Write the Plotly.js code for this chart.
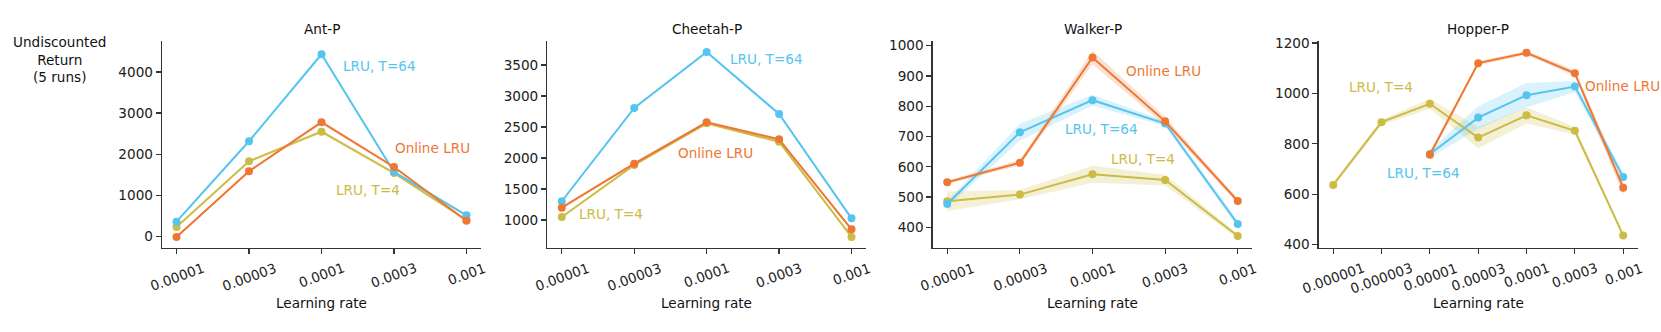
<!DOCTYPE html>
<html>
<head>
<meta charset="utf-8">
<script src="https://cdn.plot.ly/plotly-3.0.1.min.js"></script>
<style>
  html, body { margin: 0; padding: 0; background: #fff; }
  #plot { width: 1661px; height: 332px; }
</style>
</head>
<body>
<div id="plot"></div>
<script>
// learning rate tick labels
var lrFive = ['0.00001', '0.00003', '0.0001', '0.0003', '0.001'];
var lrSeven = ['0.000001', '0.000003', '0.00001', '0.00003', '0.0001', '0.0003', '0.001'];

// Ant-P
var antOnline = [-17, 1583, 2776, 1687, 380];
var antOnlineErr = [25, 30, 45, 30, 20];
var antT64 = [356, 2313, 4432, 1566, 511];
var antT64Err = [20, 25, 40, 30, 25];
var antT4 = [226, 1826, 2547, 1541, 395];
var antT4Err = [20, 30, 45, 40, 20];

// Cheetah-P
var cheOnline = [1198, 1908, 2576, 2302, 850];
var cheOnlineErr = [15, 20, 25, 20, 15];
var cheT64 = [1302, 2807, 3710, 2710, 1027];
var cheT64Err = [15, 20, 20, 20, 15];
var cheT4 = [1048, 1887, 2560, 2263, 726];
var cheT4Err = [15, 20, 25, 20, 15];

// Walker-P
var walOnline = [549, 613, 961, 750, 487];
var walOnlineErr = [6, 9, 22, 14, 8];
var walT64 = [477, 714, 820, 743, 411];
var walT64Err = [10, 28, 18, 8, 12];
var walT4 = [486, 508, 575, 556, 371];
var walT4Err = [32, 15, 28, 18, 8];

// Hopper-P
var hopOnline = [null, null, 757, 1120, 1161, 1080, 626];
var hopOnlineErr = [0, 0, 12, 8, 8, 12, 30];
var hopT64 = [null, null, 760, 904, 993, 1027, 669];
var hopT64Err = [0, 0, 15, 45, 48, 22, 15];
var hopT4 = [637, 886, 959, 825, 913, 852, 437];
var hopT4Err = [10, 10, 20, 42, 32, 15, 8];

var BLUE = '#55c5ef', ORANGE = '#ee7733', OLIVE = '#ccbb44';
var BLUE_F = 'rgba(85,197,239,0.22)', ORANGE_F = 'rgba(238,119,51,0.22)', OLIVE_F = 'rgba(204,187,68,0.22)';
var FONT = 'DejaVu Sans, sans-serif';
var FS = 13.6;
var W = 1661, H = 332;

var panels = [
  {title: 'Ant-P', lr: lrFive, px: [162, 481], yr: [-285, 4762], dtick: 1000,
   series: [[antT4, antT4Err, OLIVE, OLIVE_F], [antT64, antT64Err, BLUE, BLUE_F], [antOnline, antOnlineErr, ORANGE, ORANGE_F]],
   notes: [['LRU, T=64', 2.27, 4139, BLUE], ['Online LRU', 2.99, 2143, ORANGE], ['LRU, T=4', 2.17, 1135, OLIVE]]},
  {title: 'Cheetah-P', lr: lrFive, px: [547.3, 866], yr: [548, 3892], dtick: 500,
   series: [[cheT4, cheT4Err, OLIVE, OLIVE_F], [cheT64, cheT64Err, BLUE, BLUE_F], [cheOnline, cheOnlineErr, ORANGE, ORANGE_F]],
   notes: [['LRU, T=64', 2.29, 3602, BLUE], ['Online LRU', 1.58, 2085, ORANGE], ['LRU, T=4', 0.21, 1102, OLIVE]]},
  {title: 'Walker-P', lr: lrFive, px: [932.7, 1252.3], yr: [331.6, 1016.5], dtick: 100,
   series: [[walT4, walT4Err, OLIVE, OLIVE_F], [walT64, walT64Err, BLUE, BLUE_F], [walOnline, walOnlineErr, ORANGE, ORANGE_F]],
   notes: [['Online LRU', 2.44, 917, ORANGE], ['LRU, T=64', 1.59, 724, BLUE], ['LRU, T=4', 2.23, 625, OLIVE]]},
  {title: 'Hopper-P', lr: lrSeven, px: [1318.7, 1637.7], yr: [387, 1209], dtick: 200,
   series: [[hopT4, hopT4Err, OLIVE, OLIVE_F], [hopT64, hopT64Err, BLUE, BLUE_F], [hopOnline, hopOnlineErr, ORANGE, ORANGE_F]],
   notes: [['LRU, T=4', 0.28, 1027, OLIVE], ['Online LRU', 5.17, 1030, ORANGE], ['LRU, T=64', 1.08, 686, BLUE]]}
];

var yBot = 1 - 248 / H, yTop = 1 - 40.7 / H;
var data = [];
var layout = {
  width: W, height: H,
  margin: {l: 0, r: 0, t: 0, b: 0},
  paper_bgcolor: '#fff', plot_bgcolor: '#fff',
  showlegend: false,
  font: {family: FONT, size: FS, color: '#222'},
  annotations: []
};

panels.forEach(function(p, i) {
  var sfx = i === 0 ? '' : String(i + 1);
  var xa = 'x' + sfx, ya = 'y' + sfx;
  var idx = p.lr.map(function(_, j) { return j; });

  // shaded bands, then lines on top
  p.series.forEach(function(s) {
    var vals = s[0], err = s[1];
    var bx = [], by = [];
    idx.forEach(function(j) { if (vals[j] !== null) { bx.push(j); by.push(vals[j] + err[j]); } });
    for (var j = idx.length - 1; j >= 0; j--) {
      if (vals[j] !== null) { bx.push(j); by.push(vals[j] - err[j]); }
    }
    data.push({x: bx, y: by, xaxis: xa, yaxis: ya, type: 'scatter', mode: 'lines',
      fill: 'toself', fillcolor: s[3], line: {width: 0}, hoverinfo: 'skip'});
  });
  p.series.forEach(function(s) {
    data.push({x: idx, y: s[0], xaxis: xa, yaxis: ya, type: 'scatter', mode: 'lines+markers',
      line: {color: s[2], width: 2}, marker: {color: s[2], size: 8}, connectgaps: false});
  });

  var n = p.lr.length;
  var pad = 0.05 * (n - 1);
  layout['xaxis' + sfx] = {
    domain: [p.px[0] / W, p.px[1] / W], anchor: ya,
    range: [-pad, n - 1 + pad], tickvals: idx, showticklabels: false,
    ticks: 'outside', ticklen: 5, tickwidth: 1.2, tickcolor: '#333',
    showline: true, linecolor: '#333', linewidth: 1.3, showgrid: false, zeroline: false
  };
  layout['yaxis' + sfx] = {
    domain: [yBot, yTop], anchor: xa,
    range: p.yr, dtick: p.dtick, tick0: 0,
    ticks: 'outside', ticklen: 5, tickwidth: 1.2, tickcolor: '#333',
    showline: true, linecolor: '#333', linewidth: 1.3, showgrid: false, zeroline: false,
    tickfont: {family: FONT, size: FS, color: '#222'}
  };

  var cx = (p.px[0] + p.px[1]) / 2 / W;
  layout.annotations.push({xref: 'paper', yref: 'paper', x: cx, y: 1 - 29.3 / H,
    text: p.title, showarrow: false, xanchor: 'center', yanchor: 'middle',
    font: {family: FONT, size: FS, color: '#111'}});
  layout.annotations.push({xref: 'paper', yref: 'paper', x: cx, y: 1 - 303 / H,
    text: 'Learning rate', showarrow: false, xanchor: 'center', yanchor: 'middle',
    font: {family: FONT, size: FS, color: '#111'}});

  // rotated tick labels centred under each tick
  p.lr.forEach(function(lab, j) {
    layout.annotations.push({xref: xa, yref: 'paper', x: j, y: 1 - 257 / H,
      text: lab, showarrow: false, textangle: -20, xanchor: 'center', yanchor: 'top',
      font: {family: FONT, size: FS, color: '#222'}});
  });

  p.notes.forEach(function(a) {
    layout.annotations.push({xref: xa, yref: ya, x: a[1], y: a[2], text: a[0],
      showarrow: false, xanchor: 'left', yanchor: 'middle',
      font: {family: FONT, size: FS, color: a[3]}});
  });
});

layout.annotations.push({xref: 'paper', yref: 'paper', x: 59.3 / W, y: 1 - 59 / H,
  text: 'Undiscounted<br>Return<br>(5 runs)', showarrow: false, xanchor: 'center', yanchor: 'middle',
  align: 'center', font: {family: FONT, size: FS, color: '#111'}});

Plotly.newPlot('plot', data, layout, {displayModeBar: false, staticPlot: true});
</script>
</body>
</html>
